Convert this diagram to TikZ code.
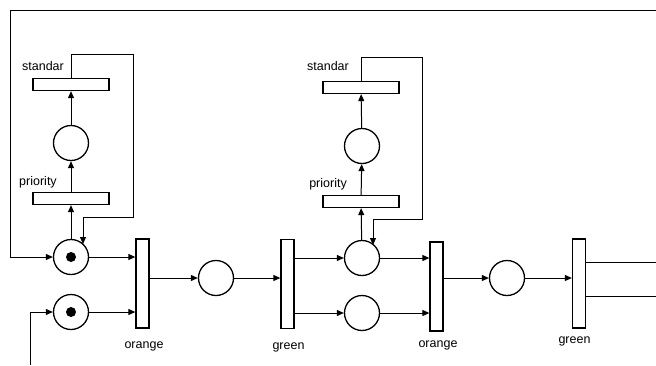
\documentclass[tikz,border=0pt]{standalone}
\usepackage{fontspec}
\setmainfont{Liberation Sans}
\usetikzlibrary{arrows.meta}
\begin{document}
\begin{tikzpicture}[x=1pt,y=-1pt,
  place/.style={circle,draw,line width=1.3pt,minimum size=35pt,inner sep=0pt},
  token/.style={circle,fill,minimum size=10pt,inner sep=0pt},
  hbar/.style={rectangle,draw,line width=1.3pt,minimum width=76pt,minimum height=12pt,inner sep=0pt},
  vbar/.style={rectangle,draw,line width=1.3pt,minimum width=13pt,minimum height=89pt,inner sep=0pt},
  lbl/.style={font=\fontsize{12.5}{15}\selectfont,inner sep=0pt},
  arc/.style={line width=1pt,-{Triangle[length=7pt,width=6pt]}},
  wire/.style={line width=1pt}]
\useasboundingbox (0,0) rectangle (656,365);

% first block: two marked input places and the priority loop
\node[place] (p1) at (71,257) {};
\node[token] at (p1) {};
\node[place] (p2) at (71,312) {};
\node[token] at (p2) {};
\node[hbar] (pr1) at (71,198.5) {};
\node[place] (m1) at (71,143) {};
\node[hbar] (st1) at (71,84.5) {};
\node[lbl] at (43,66) {standar};
\node[lbl] at (38,182) {priority};

\node[vbar] (or1) at (142.5,283.5) {};
\node[lbl] at (144,346) {orange};
\node[place] (c1) at (216,278) {};
\node[vbar] (gr1) at (287.5,284) {};
\node[lbl] at (288.5,347) {green};

% second block
\node[place] (pA) at (362,258) {};
\node[place] (pB) at (362,313) {};
\node[hbar] (pr2) at (361,201.5) {};
\node[place] (m2) at (362,146) {};
\node[hbar] (st2) at (361,87.5) {};
\node[lbl] at (328,66) {standar};
\node[lbl] at (328,184) {priority};

\node[vbar] (or2) at (436.5,286.5) {};
\node[lbl] at (438,345) {orange};
\node[place] (c2) at (507,278) {};
\node[vbar] (gr2) at (579,283.5) {};
\node[lbl] at (574.5,341) {green};

% free ends
\coordinate (topR) at (656,10);
\coordinate (botL) at (30,365);
\coordinate (out1) at (656,262);
\coordinate (out2) at (656,296);

% outer return line and lower input line
\draw[arc] (topR) -- (10,10) |- (p1.west);
\draw[arc] (botL) |- (p2.west);

% priority loop, first block
\draw[arc] (p1) -- (pr1);
\draw[arc] (pr1) -- (m1);
\draw[arc] (m1) -- (st1);
\draw[arc] (st1.north) -- (71,54) -- (133,54) -- (133,217) -- (83,217) -- (83,244);

% priority loop, second block
\draw[arc] (pA) -- (pr2);
\draw[arc] (pr2) -- (m2);
\draw[arc] (m2) -- (st2);
\draw[arc] (st2.north) -- (361,57) -- (422,57) -- (422,219) -- (373,219) -- (373,245);

% main flow
\draw[arc] (p1.east) -- (or1.west |- p1.east);
\draw[arc] (p2.east) -- (or1.west |- p2.east);
\draw[arc] (or1.east |- c1.west) -- (c1.west);
\draw[arc] (c1.east) -- (gr1.west |- c1.east);
\draw[arc] (gr1.east |- pA.west) -- (pA.west);
\draw[arc] (gr1.east |- pB.west) -- (pB.west);
\draw[arc] (pA.east) -- (or2.west |- pA.east);
\draw[arc] (pB.east) -- (or2.west |- pB.east);
\draw[arc] (or2.east |- c2.west) -- (c2.west);
\draw[arc] (c2.east) -- (gr2.west |- c2.east);
\draw[wire] (gr2.east |- out1) -- (out1);
\draw[wire] (gr2.east |- out2) -- (out2);
\end{tikzpicture}
\end{document}
